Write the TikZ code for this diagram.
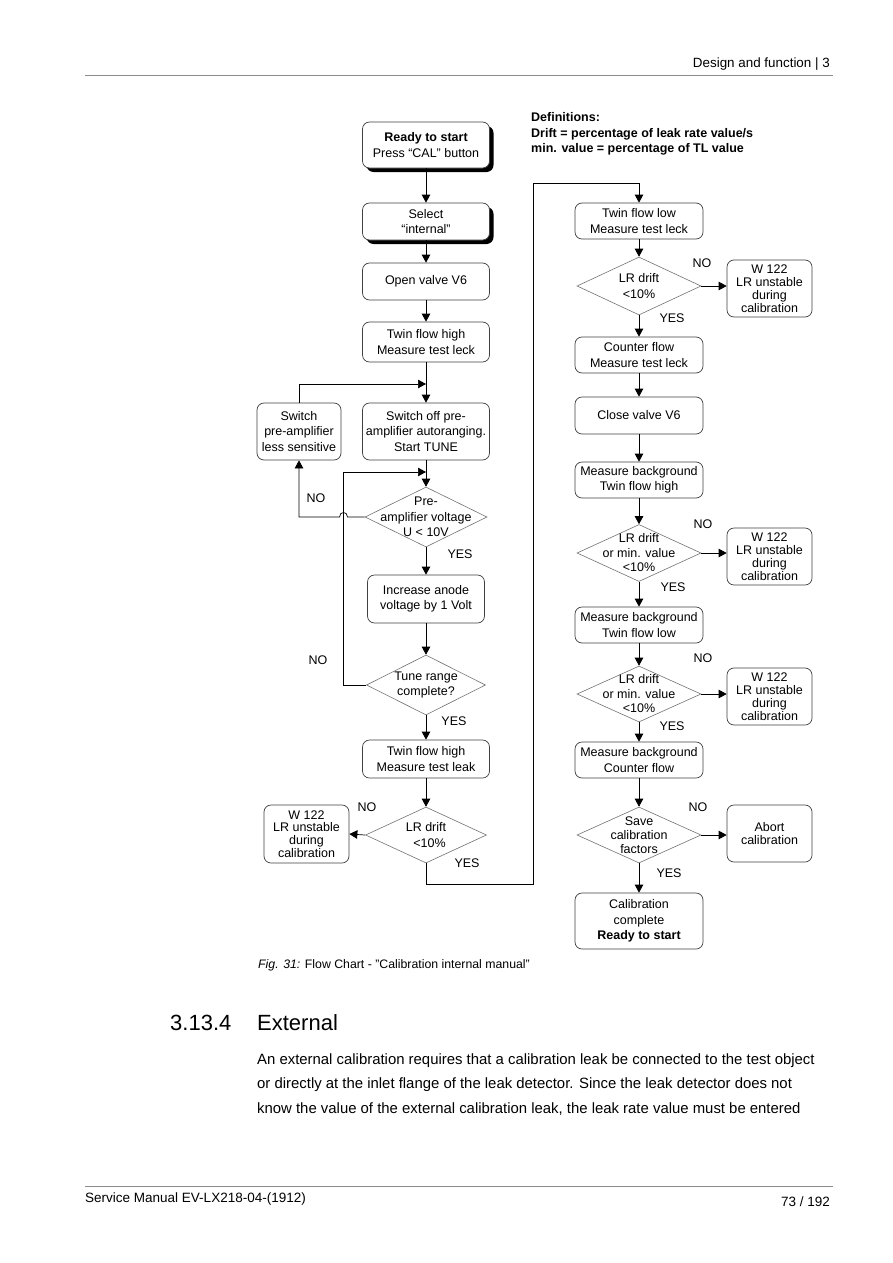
\documentclass[tikz,border=0pt]{standalone}
\usepackage{fontspec}
\setmainfont{Liberation Sans}
\usetikzlibrary{arrows.meta,shapes.geometric,shadows}
\begin{document}
\begin{tikzpicture}[x=1pt,y=-1pt,
  every node/.style={font=\fontsize{12.5}{15.5}\selectfont, inner sep=0pt},
  box/.style={draw=black!75, line width=0.7pt, rounded corners=7pt, align=center, fill=white},
  sbox/.style={box, drop shadow={shadow xshift=4pt, shadow yshift=-4pt, fill=black, opacity=1}},
  wbox/.style={box, font=\fontsize{12.5}{12.8}\selectfont, minimum width=85pt, minimum height=57pt},
  mbox/.style={box, minimum width=128pt, minimum height=36pt},
  dia/.style={diamond, draw=black!55, line width=0.6pt, minimum width=124pt, minimum height=58pt},
  dtext/.style={align=center, font=\fontsize{12.5}{15.5}\selectfont},
  lab/.style={font=\fontsize{12.5}{15}\selectfont},
  arr/.style={draw=black, line width=0.7pt, -{Triangle[length=8pt,width=8.5pt]}},
  ln/.style={draw=black, line width=0.7pt},
  rule/.style={draw=black!45, line width=0.7pt},
  txt/.style={anchor=base west, font=\fontsize{14.9}{17}\selectfont}
]
\useasboundingbox[fill=white] (0,0) rectangle (893,1263);

% header and footer
\node[anchor=base east, font=\fontsize{13.4}{16}\selectfont] (hdr) at (830,67) {Design and function | 3};
\draw[rule] (85,75.5) -- (833,75.5);
\draw[rule] (85,1186) -- (833,1186);
\node[anchor=base west, font=\fontsize{13.5}{16}\selectfont] (ftl) at (85,1202) {Service Manual EV-LX218-04-(1912)};
\node[anchor=base east, font=\fontsize{13.5}{16}\selectfont] (ftr) at (830,1206) {73 / 192};

% definitions
\node[anchor=base west, font=\bfseries\fontsize{12.5}{15}\selectfont] (def1) at (531,121) {Definitions:};
\node[anchor=base west, font=\bfseries\fontsize{12.5}{15}\selectfont] (def2) at (531,137) {Drift = percentage of leak rate value/s};
\node[anchor=base west, font=\bfseries\fontsize{12.5}{15}\selectfont] (def3) at (531,152) {min. value = percentage of TL value};

% left column
\node[sbox, minimum width=127pt, minimum height=46pt] (ready) at (426,145) {\textbf{Ready to start}\\Press “CAL” button};
\node[sbox, minimum width=127pt, minimum height=37pt] (select) at (426,221.5) {Select\\“internal”};
\node[box, minimum width=127pt, minimum height=37pt] (open) at (426,281.5) {Open valve V6};
\node[box, minimum width=127pt, minimum height=40pt] (tfh1) at (426,342) {Twin flow high\\Measure test leck};
\node[box, minimum width=84pt, minimum height=57pt] (switch) at (299,431.5) {Switch\\pre-amplifier\\less sensitive};
\node[box, minimum width=127pt, minimum height=57pt] (swoff) at (426,431.5) {Switch off pre-\\amplifier autoranging.\\Start TUNE};
\node[dia, minimum width=122pt, minimum height=60pt] (d1) at (426,517) {};
\node[dtext] (d1t) at (d1.center) {Pre-\\amplifier voltage\\U < 10V};
\node[box, minimum width=117pt, minimum height=48pt] (incr) at (426,599) {Increase anode\\voltage by 1 Volt};
\node[dia, minimum width=119pt, minimum height=60pt] (d2) at (426,685) {};
\node[dtext] (d2t) at (d2.center) {Tune range\\complete?};
\node[box, minimum width=127pt, minimum height=38pt] (tfh2) at (426,759) {Twin flow high\\Measure test leak};
\node[dia, minimum width=121pt, minimum height=56pt] (d3) at (426,835) {};
\node[dtext] (d3t) at (d3.center) {LR drift\\\ \ <10\%};
\node[wbox, minimum height=58pt] (w1) at (306.5,834) {W 122\\LR unstable\\during\\calibration};

% right column
\node[mbox] (tfl) at (639,221) {Twin flow low\\Measure test leck};
\node[dia] (r1) at (639,286) {};
\node[dtext] (r1t) at (r1.center) {LR drift\\<10\%};
\node[wbox] (w2) at (769.5,288.5) {W 122\\LR unstable\\during\\calibration};
\node[mbox] (cf) at (639,355) {Counter flow\\Measure test leck};
\node[mbox, minimum height=37pt] (cv) at (639,415.5) {Close valve V6};
\node[mbox] (mb1) at (639,480) {Measure background\\Twin flow high};
\node[dia, minimum height=57pt] (r2) at (639,553) {};
\node[dtext, font=\fontsize{12.5}{14.5}\selectfont] (r2t) at (r2.center) {LR drift\\or min. value\\<10\%};
\node[wbox] (w3) at (769.5,556.5) {W 122\\LR unstable\\during\\calibration};
\node[mbox] (mb2) at (639,625) {Measure background\\Twin flow low};
\node[dia, minimum height=56pt] (r3) at (639,694) {};
\node[dtext, font=\fontsize{12.5}{14.5}\selectfont] (r3t) at (r3.center) {LR drift\\or min. value\\<10\%};
\node[wbox] (w4) at (769.5,696.5) {W 122\\LR unstable\\during\\calibration};
\node[mbox] (mb3) at (639,760) {Measure background\\Counter flow};
\node[dia, minimum height=56pt] (r4) at (639,835) {};
\node[dtext, font=\fontsize{12.5}{14}\selectfont] (r4t) at (r4.center) {Save\\calibration\\factors};
\node[wbox] (abort) at (769.5,833.5) {Abort\\calibration};
\node[box, minimum width=128pt, minimum height=56pt] (done) at (639,921) {Calibration\\complete\\\textbf{Ready to start}};

% helper coordinates
\coordinate (m1) at (426,384);
\coordinate (m2) at (426,472);
\coordinate (c1) at (533,884);
\coordinate (c2) at (533,183);

% connectors left
\draw[arr] (ready) -- (select);
\draw[arr] (select) -- (open);
\draw[arr] (open) -- (tfh1);
\draw[ln] (tfh1.south) -- (m1);
\draw[arr] (m1) -- (swoff.north);
\draw[arr] (switch.north) |- (m1);
\draw[ln] (swoff.south) -- (m2);
\draw[arr] (m2) -- (d1.north);
\draw[arr] (d1.west) -- (347.5,517) .. controls (347.5,511) and (339.5,511) .. (339.5,517) -| (switch.south);
\draw[arr] (d1.south) -- (incr.north);
\draw[arr] (incr.south) -- (d2.north);
\draw[arr] (d2.west) -- (343.5,685) |- (m2);
\draw[arr] (d2.south) -- (tfh2.north);
\draw[arr] (tfh2.south) -- (d3.north);
\draw[arr] (d3.west) -- (w1.east);
\draw[arr] (d3.south) |- (c1) -- (c2) -| (tfl.north);

% connectors right
\draw[arr] (tfl.south) -- (r1.north);
\draw[arr] (r1.east) -- (w2.west |- r1.east);
\draw[arr] (r1.south) -- (cf.north);
\draw[arr] (cf) -- (cv);
\draw[arr] (cv) -- (mb1);
\draw[arr] (mb1.south) -- (r2.north);
\draw[arr] (r2.east) -- (w3.west |- r2.east);
\draw[arr] (r2.south) -- (mb2.north);
\draw[arr] (mb2.south) -- (r3.north);
\draw[arr] (r3.east) -- (w4.west |- r3.east);
\draw[arr] (r3.south) -- (mb3.north);
\draw[arr] (mb3.south) -- (r4.north);
\draw[arr] (r4.east) -- (abort.west |- r4.east);
\draw[arr] (r4.south) -- (done.north);

% labels
\node[lab] (l1) at (316,498) {NO};
\node[lab] (l2) at (460,554) {YES};
\node[lab] (l3) at (318,660) {NO};
\node[lab] (l4) at (454,721) {YES};
\node[lab] (l5) at (367,807) {NO};
\node[lab] (l6) at (467,863) {YES};
\node[lab] (l7) at (702,263) {NO};
\node[lab] (l8) at (672,318) {YES};
\node[lab] (l9) at (703,524) {NO};
\node[lab] (l10) at (673,587) {YES};
\node[lab] (l11) at (703,658) {NO};
\node[lab] (l12) at (672,726) {YES};
\node[lab] (l13) at (698,807) {NO};
\node[lab] (l14) at (669,873) {YES};

% caption, heading, body
\node[anchor=base west, font=\fontsize{12.3}{15}\selectfont] (cap) at (258,968) {\textit{Fig. 31:} Flow Chart - "Calibration internal manual"};
\node[anchor=base west, font=\fontsize{22}{26}\selectfont] (hnum) at (170,1030) {3.13.4};
\node[anchor=base west, font=\fontsize{22}{26}\selectfont] (htit) at (257,1030) {External};
\node[txt] (b1) at (257,1064) {An external calibration requires that a calibration leak be connected to the test object};
\node[txt] (b2) at (257,1088) {or directly at the inlet flange of the leak detector. Since the leak detector does not};
\node[txt] (b3) at (257,1113) {know the value of the external calibration leak, the leak rate value must be entered};
\end{tikzpicture}
\end{document}
